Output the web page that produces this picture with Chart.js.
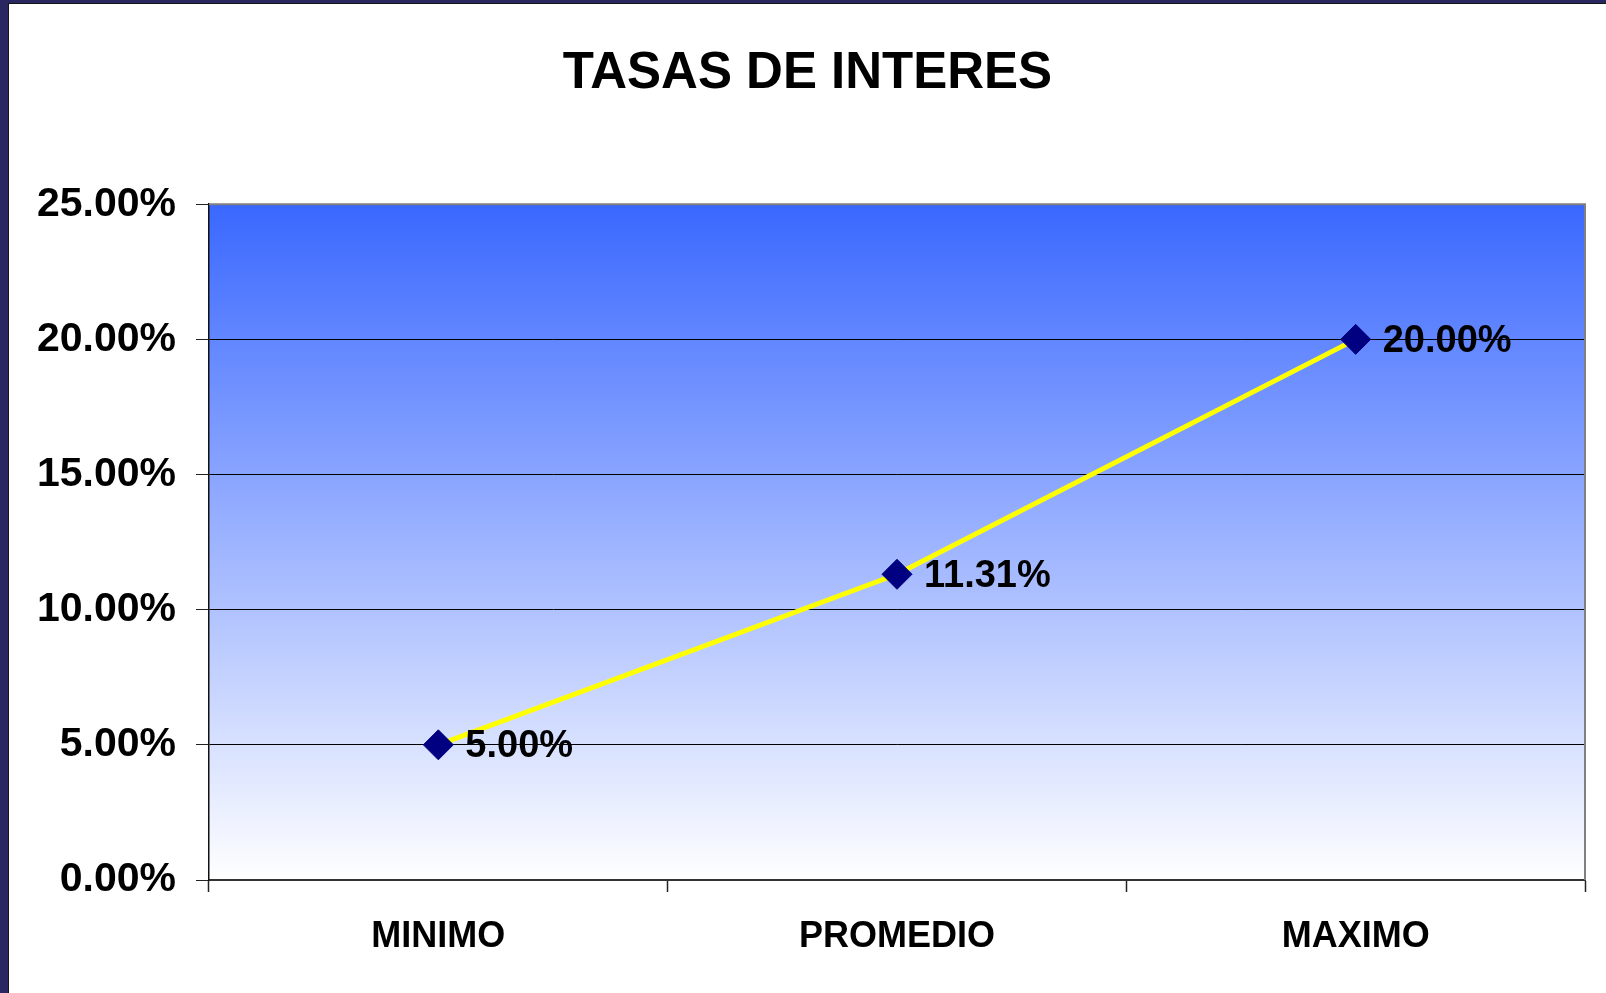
<!DOCTYPE html>
<html>
<head>
<meta charset="utf-8">
<script src="https://cdn.jsdelivr.net/npm/chart.js@4"></script>
<style>
  html, body { margin: 0; padding: 0; background: #fff; }
  #frame {
    width: 1606px; height: 993px; box-sizing: border-box;
    border-left: 8px solid #2a2760; border-top: 3px solid #2a2760;
    background: #fff;
  }
  #inner {
    width: 1598px; height: 990px; box-sizing: border-box;
    border-left: 1px solid #151515; border-top: 1px solid #151515;
  }
  #tasasChart { display: block; }
</style>
</head>
<body>
<div id="frame"><div id="inner">
  <canvas id="tasasChart" width="1597" height="989"></canvas>
</div></div>
<script>
// datos del grafico
const categorias = ['MINIMO', 'PROMEDIO', 'MAXIMO'];
const tasas = [5.00, 11.31, 20.00];
const ejeMin = 0;
const ejeMax = 25;
const ejePaso = 5;

const FUENTE = '"Liberation Sans", Arial, sans-serif';

// fondo degradado del area de trazado y borde gris arriba/derecha
const fondoPlugin = {
    id: 'fondo',
    beforeDraw(chart) {
        const { ctx, chartArea: a } = chart;
        const g = ctx.createLinearGradient(0, a.top, 0, a.bottom);
        g.addColorStop(0, '#3a68ff');
        g.addColorStop(1, '#ffffff');
        ctx.save();
        ctx.fillStyle = g;
        ctx.fillRect(a.left, a.top, a.right - a.left, a.bottom - a.top);
        ctx.restore();
    },
    afterDatasetsDraw(chart) {
        const { ctx, chartArea: a } = chart;
        ctx.save();
        ctx.strokeStyle = '#808080';
        ctx.lineWidth = 2;
        ctx.beginPath();
        ctx.moveTo(a.left, a.top);
        ctx.lineTo(a.right, a.top);
        ctx.lineTo(a.right, a.bottom);
        ctx.stroke();
        ctx.restore();
    }
};

// etiquetas de valor a la derecha de cada punto
const etiquetasPlugin = {
    id: 'etiquetas',
    afterDatasetsDraw(chart) {
        const { ctx } = chart;
        const meta = chart.getDatasetMeta(0);
        ctx.save();
        ctx.font = 'bold 38px ' + FUENTE;
        ctx.fillStyle = '#000';
        ctx.textAlign = 'left';
        ctx.textBaseline = 'middle';
        meta.data.forEach((pt, i) => {
            ctx.fillText(tasas[i].toFixed(2) + '%', pt.x + 27, pt.y + 2);
        });
        ctx.restore();
    }
};

const ctx = document.getElementById('tasasChart').getContext('2d');
new Chart(ctx, {
    type: 'line',
    data: {
        labels: categorias,
        datasets: [{
            label: 'Tasas',
            data: tasas,
            borderColor: '#ffff00',
            borderWidth: 5,
            pointStyle: 'rectRot',
            pointRadius: 15,
            pointBackgroundColor: '#000080',
            pointBorderColor: '#000080',
            pointBorderWidth: 1,
            tension: 0
        }]
    },
    options: {
        responsive: false,
        animation: false,
        layout: { padding: { left: 21, right: 21, top: 0, bottom: 0 } },
        plugins: {
            legend: { display: false },
            tooltip: { enabled: false },
            title: {
                display: true,
                text: 'TASAS DE INTERES',
                color: '#000',
                font: { family: FUENTE, size: 51, weight: 'bold' },
                padding: { top: 39, bottom: 100 }
            }
        },
        scales: {
            x: {
                offset: true,
                grid: {
                    offset: true,
                    drawOnChartArea: false,
                    tickLength: 12,
                    tickColor: '#222',
                    tickWidth: 1.5
                },
                border: { color: '#333', width: 2 },
                ticks: {
                    color: '#000',
                    padding: 23,
                    font: { family: FUENTE, size: 36, weight: 'bold' }
                },
                afterFit(scale) { scale.height = 113; }
            },
            y: {
                min: ejeMin,
                max: ejeMax,
                grid: {
                    color: c => c.tick && c.tick.value === ejeMax ? 'rgba(0,0,0,0)' : '#000',
                    lineWidth: 1,
                    tickLength: 13,
                    tickColor: '#222'
                },
                border: { color: '#111', width: 1.5 },
                ticks: {
                    stepSize: ejePaso,
                    color: '#000',
                    padding: 20,
                    font: { family: FUENTE, size: 41, weight: 'bold' },
                    callback: v => Number(v).toFixed(2) + '%'
                },
                afterFit(scale) { scale.width = 179; }
            }
        }
    },
    plugins: [fondoPlugin, etiquetasPlugin]
});
</script>
</body>
</html>
